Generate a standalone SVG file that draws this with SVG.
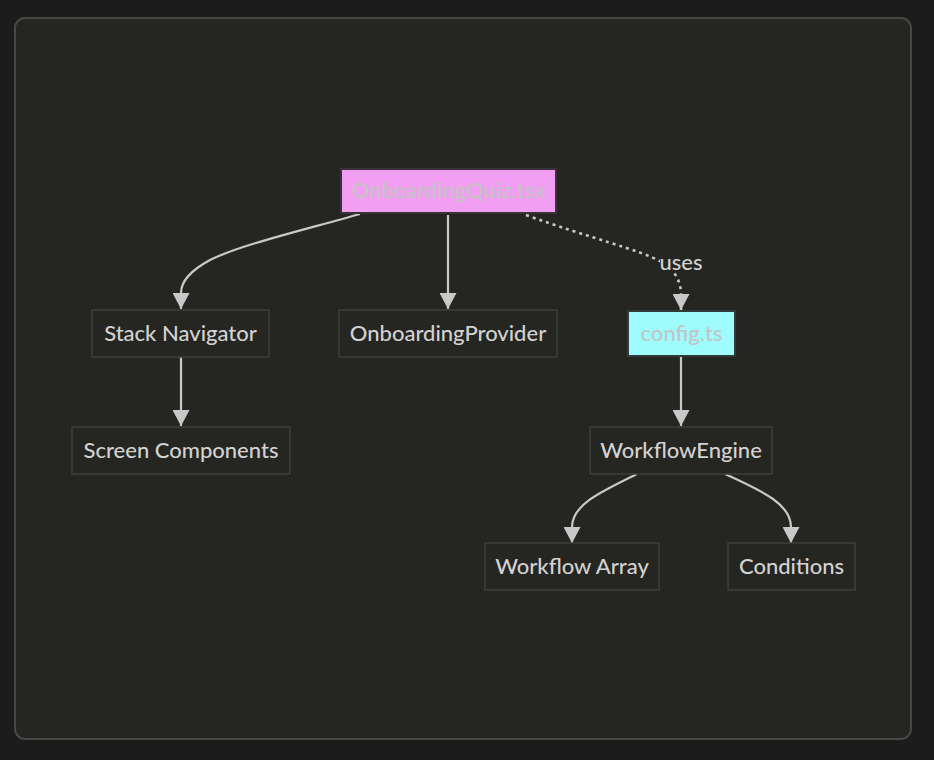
<svg xmlns="http://www.w3.org/2000/svg" width="934" height="760" viewBox="0 0 934 760">
<defs>
<style>
.node rect{fill:#252521;stroke:#3e3e3a;stroke-width:1.5}
.node text{font-family:Lato,"Open Sans",sans-serif;font-size:22px;font-weight:500;fill:#d2d2d2;text-anchor:middle;dominant-baseline:central}
.node.pink rect{fill:#f19ef3;stroke:#3a323a;stroke-width:2}
.node.cyan rect{fill:#9ffcfd;stroke:#323a3a;stroke-width:2}
.node.pink text,.node.cyan text{fill:#c4c4c4}
.edge{fill:none;stroke:#c8c8c8;stroke-width:2.2}
.dotted{stroke-dasharray:3 4;stroke-width:2.6}
.elabel{font-family:Lato,"Open Sans",sans-serif;font-size:22px;font-weight:500;fill:#d2d2d2;text-anchor:middle;dominant-baseline:central}
</style>
<marker id="arr" viewBox="0 0 16 17" refX="16" refY="8.5" markerWidth="16" markerHeight="17" markerUnits="userSpaceOnUse" orient="auto">
<path d="M0,0 L16,8.5 L0,17 z" fill="#c8c8c8"/>
</marker>
</defs>
<rect x="0" y="0" width="934" height="760" fill="#1c1c1c"/>
<rect x="15" y="18" width="896" height="721" rx="10" fill="#252521" stroke="#474743" stroke-width="2"/>
<g id="connectors">
<path class="edge" d="M360,214 C300,231 240,245 210,260 C190,271 181,281 181,293 L181,309" marker-end="url(#arr)"/>
<path class="edge" d="M448,215 L448,309" marker-end="url(#arr)"/>
<path class="edge dotted" d="M526,215 C590,238 640,250 662,262 C675,270 681,282 681,294 L681,310" marker-end="url(#arr)"/>
<rect x="660" y="252" width="43" height="20" fill="#252521"/>
<text class="elabel" x="681" y="261.5">uses</text>
<path class="edge" d="M181,357 L181,426" marker-end="url(#arr)"/>
<path class="edge" d="M681,356 L681,426" marker-end="url(#arr)"/>
<path class="edge" d="M637,474 C600,492 572,505 572,527 L572,543" marker-end="url(#arr)"/>
<path class="edge" d="M725,474 C765,492 791,505 791,527 L791,543" marker-end="url(#arr)"/>
</g>
<g id="quiz" class="node pink"><rect x="341" y="169" width="215" height="44"/><text x="448.5" y="189.5">OnboardingQuiz.tsx</text></g>
<g id="stack" class="node"><rect x="92" y="310" width="177" height="47"/><text x="180.5" y="332">Stack Navigator</text></g>
<g id="provider" class="node"><rect x="339" y="310" width="218" height="47"/><text x="448" y="332">OnboardingProvider</text></g>
<g id="config" class="node cyan"><rect x="628" y="311" width="107" height="45"/><text x="681.5" y="332">config.ts</text></g>
<g id="screens" class="node"><rect x="72" y="427" width="218" height="47"/><text x="181" y="449">Screen Components</text></g>
<g id="engine" class="node"><rect x="590" y="427" width="182" height="47"/><text x="681" y="449">WorkflowEngine</text></g>
<g id="array" class="node"><rect x="485" y="543" width="174" height="47"/><text x="572" y="565">Workflow Array</text></g>
<g id="conditions" class="node"><rect x="728" y="543" width="127" height="47"/><text x="791.5" y="565">Conditions</text></g>
</svg>
